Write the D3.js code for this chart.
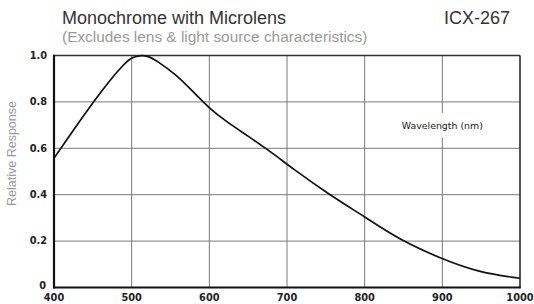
<!DOCTYPE html>
<html><head><meta charset="utf-8">
<script src="https://cdn.jsdelivr.net/npm/d3@7"></script>
<style>body{margin:0;background:#fff}svg{display:block}</style>
</head><body><svg id="c" width="534" height="304"></svg>
<script>
const wavelengths = [400,425,451,472,489,500,510,520,532,558,579,600,622,648,682,705,755,800,845,900,948,1000];
const response =    [0.557,0.679,0.801,0.894,0.959,0.992,1.0,1.0,0.978,0.916,0.844,0.772,0.715,0.657,0.578,0.518,0.399,0.305,0.205,0.122,0.064,0.040];
const xTicks = [400,500,600,700,800,900,1000];
const yTicks = [0,0.2,0.4,0.6,0.8,1.0];
const yTickLabels = ["0","0.2","0.4","0.6","0.8","1.0"];
const title = "Monochrome with Microlens";
const subtitle = "(Excludes lens & light source characteristics)";
const model = "ICX-267";
const yLabel = "Relative Response";
const xLabel = "Wavelength (nm)";

const svg = d3.select("#c");
const L=54, R=520, T=55.5, B=287.5;
const x = d3.scaleLinear().domain([400,1000]).range([L,R]);
const y = d3.scaleLinear().domain([0,1]).range([B,T]);

// grid
const g = svg.append("g");
g.selectAll(".vx").data(xTicks).join("line")
  .attr("x1",d=>x(d)).attr("x2",d=>x(d)).attr("y1",T).attr("y2",B)
  .attr("stroke","#7a7a7a").attr("stroke-width",1);
g.selectAll(".hy").data(yTicks).join("line")
  .attr("x1",L).attr("x2",R).attr("y1",d=>y(d)).attr("y2",d=>y(d))
  .attr("stroke","#7a7a7a").attr("stroke-width",1);

// x label with white background
const lx = x(900), ly = 126;
svg.append("rect").attr("x",lx-45).attr("y",ly-13).attr("width",90).attr("height",25).attr("fill","#fff");
svg.append("text").attr("x",lx).attr("y",ly+3).attr("text-anchor","middle")
  .attr("font-family","DejaVu Sans").attr("font-size",9.4).attr("font-weight","500").attr("fill","#222").text(xLabel);

// border
svg.append("line").attr("x1",L).attr("x2",R).attr("y1",T).attr("y2",T).attr("stroke","#333").attr("stroke-width",1.5);
svg.append("line").attr("x1",R).attr("x2",R).attr("y1",T).attr("y2",B).attr("stroke","#333").attr("stroke-width",1.5);
svg.append("line").attr("x1",L).attr("x2",L).attr("y1",T-0.75).attr("y2",B+1).attr("stroke","#111").attr("stroke-width",2.2);
svg.append("line").attr("x1",L-1).attr("x2",R+0.75).attr("y1",B).attr("y2",B).attr("stroke","#111").attr("stroke-width",2.2);

// curve
svg.append("path").datum(wavelengths.map((w,i)=>[w,response[i]]))
  .attr("d", d3.line().x(d=>x(d[0])).y(d=>y(d[1])).curve(d3.curveBasis))
  .attr("fill","none").attr("stroke","#111").attr("stroke-width",1.7);

// tick labels
svg.selectAll(".xt").data(xTicks).join("text")
  .attr("x",d=>x(d)).attr("y",300.5).attr("text-anchor","middle")
  .attr("font-family","DejaVu Sans").attr("font-size",9.8).attr("fill","#222").attr("font-weight","600")
  .text(d=>d);
svg.selectAll(".yt").data(yTicks).join("text")
  .attr("x",(d,i)=>i===0?46:47).attr("y",d=>y(d)+(d===0?1:3.3)).attr("text-anchor","end")
  .attr("font-family","DejaVu Sans").attr("font-size",9.8).attr("fill","#222").attr("font-weight","600")
  .text((d,i)=>yTickLabels[i]);

// axis title
svg.append("text").attr("transform",`translate(16,${(T+B)/2-18}) rotate(-90)`)
  .attr("text-anchor","middle").attr("font-family","Liberation Sans, Arial").attr("font-size",12.5)
  .attr("fill","#9a9a9a").text(yLabel);

// titles
svg.append("text").attr("x",62).attr("y",24).attr("font-family","Liberation Sans, Arial")
  .attr("font-size",18).attr("fill","#333").text(title);
svg.append("text").attr("x",510).attr("y",24).attr("text-anchor","end").attr("font-family","Liberation Sans, Arial")
  .attr("font-size",18).attr("fill","#333").text(model);
svg.append("text").attr("x",62).attr("y",42).attr("font-family","Liberation Sans, Arial")
  .attr("font-size",15.4).attr("fill","#999").text(subtitle);
</script></body></html>
